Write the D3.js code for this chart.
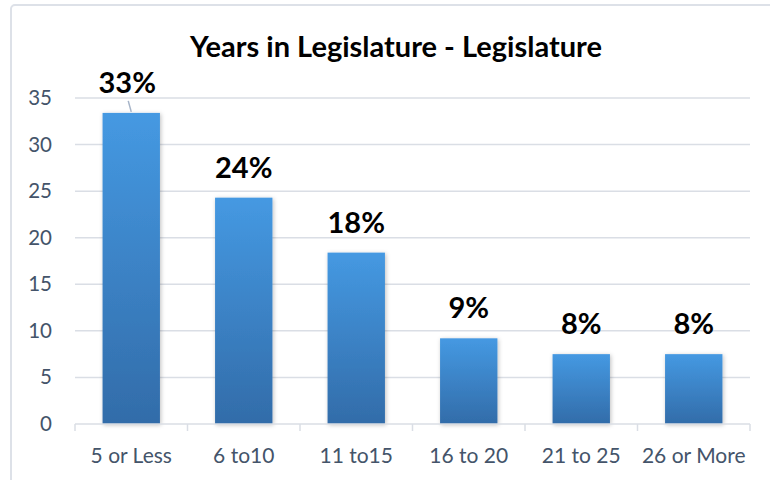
<!DOCTYPE html>
<html>
<head>
<meta charset="utf-8">
<script src="https://cdn.jsdelivr.net/npm/d3@7"></script>
<style>
  body { margin: 0; background: #fff; }
  svg { display: block; font-family: Lato, "Open Sans", sans-serif; }
</style>
</head>
<body>
<div id="chart"></div>
<script>
// data
const categories = ['5 or Less', '6 to10', '11 to15', '16 to 20', '21 to 25', '26 or More'];
const values = [33.4, 24.3, 18.4, 9.2, 7.5, 7.5];
const labels = ['33%', '24%', '18%', '9%', '8%', '8%'];
const yTicks = [0, 5, 10, 15, 20, 25, 30, 35];

const width = 770, height = 480;
const margin = {left: 75, right: 20, top: 98, bottom: 56};

let svg = d3.select('#chart').append('svg')
  .attr('width', width)
  .attr('height', height);

// gradient for bars
let defs = svg.append('defs');
let grad = defs.append('linearGradient').attr('id', 'barGrad')
  .attr('x1', 0).attr('y1', 0).attr('x2', 0).attr('y2', 1);
grad.append('stop').attr('offset', '0%').attr('stop-color', '#4599e2');
grad.append('stop').attr('offset', '100%').attr('stop-color', '#326ca9');
let shadow = defs.append('filter').attr('id', 'shadow')
  .attr('x', '-20%').attr('y', '-10%').attr('width', '140%').attr('height', '120%');
shadow.append('feDropShadow').attr('dx', 1).attr('dy', 1).attr('stdDeviation', 2)
  .attr('flood-color', '#000').attr('flood-opacity', 0.25);

// chart border
svg.append('rect')
  .attr('x', 11).attr('y', 5)
  .attr('width', 800).attr('height', 500)
  .attr('rx', 4)
  .attr('fill', 'none')
  .attr('stroke', '#dde1e8')
  .attr('stroke-width', 2);

// scales
let x = d3.scaleBand().domain(categories)
  .range([margin.left, width - margin.right])
  .paddingInner(0.49).paddingOuter(0.245);
let y = d3.scaleLinear().domain([0, 35])
  .range([424, 98]);

// gridlines
svg.append('g').selectAll('line')
  .data(yTicks.filter(d => d > 0))
  .enter().append('line')
  .attr('x1', margin.left).attr('x2', width - margin.right)
  .attr('y1', d => y(d)).attr('y2', d => y(d))
  .attr('stroke', '#dadee5').attr('stroke-width', 1.5);

// y axis labels
let yAxis = d3.axisLeft(y).tickValues(yTicks).tickSize(0).tickPadding(23);
svg.append('g')
  .attr('transform', 'translate(' + margin.left + ',0)')
  .call(yAxis)
  .call(g => g.select('.domain').remove())
  .selectAll('text')
  .attr('font-size', 20.5)
  .attr('fill', '#44546a')
  .attr('font-family', 'Lato, "Open Sans", sans-serif');

// bars
svg.append('g').selectAll('rect')
  .data(values)
  .enter().append('rect')
  .attr('x', (d, i) => x(categories[i]))
  .attr('y', d => y(d))
  .attr('width', x.bandwidth())
  .attr('height', d => y(0) - y(d))
  .attr('fill', 'url(#barGrad)')
  .attr('filter', 'url(#shadow)');

// x axis
let step = x.step();
let xAxisG = svg.append('g');
xAxisG.append('line')
  .attr('x1', margin.left).attr('x2', width - margin.right)
  .attr('y1', y(0)).attr('y2', y(0))
  .attr('stroke', '#dadee5').attr('stroke-width', 1.5);
xAxisG.selectAll('.tk')
  .data(d3.range(categories.length + 1))
  .enter().append('line')
  .attr('x1', i => margin.left + i * step).attr('x2', i => margin.left + i * step)
  .attr('y1', y(0)).attr('y2', y(0) + 7)
  .attr('stroke', '#dadee5').attr('stroke-width', 1.5);
xAxisG.selectAll('text')
  .data(categories)
  .enter().append('text')
  .attr('x', d => x(d) + x.bandwidth() / 2)
  .attr('y', 463)
  .attr('text-anchor', 'middle')
  .attr('font-size', 21)
  .attr('fill', '#44546a')
  .text(d => d);

// leader line for the first label
svg.append('line')
  .attr('x1', x(categories[0]) + x.bandwidth() / 2 - 3).attr('y1', y(values[0]) - 12)
  .attr('x2', x(categories[0]) + x.bandwidth() / 2).attr('y2', y(values[0]) - 1)
  .attr('stroke', '#a6b4c8').attr('stroke-width', 1.5);

// data labels
svg.append('g').selectAll('text')
  .data(values)
  .enter().append('text')
  .attr('x', (d, i) => x(categories[i]) + x.bandwidth() / 2 + (i === 0 ? -4 : 0))
  .attr('y', d => y(d) - 20)
  .attr('text-anchor', 'middle')
  .attr('font-size', 29)
  .attr('font-weight', 'bold')
  .attr('fill', '#000')
  .text((d, i) => labels[i]);

// title
svg.append('text')
  .attr('x', 396).attr('y', 57)
  .attr('text-anchor', 'middle')
  .attr('font-size', 29)
  .attr('font-weight', 'bold')
  .attr('fill', '#000')
  .text('Years in Legislature - Legislature');
</script>
</body>
</html>
